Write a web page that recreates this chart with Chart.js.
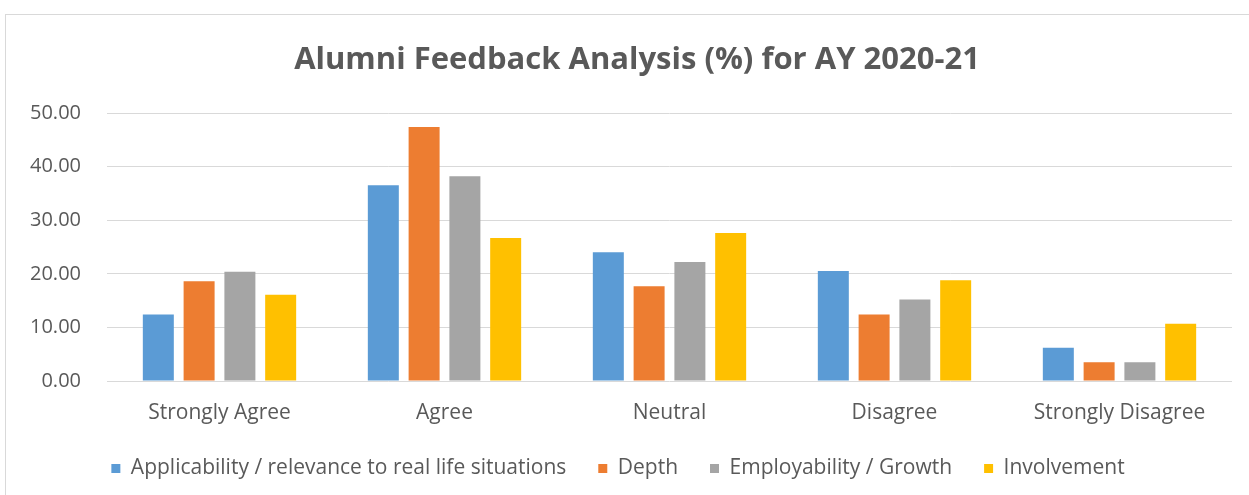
<!DOCTYPE html>
<html>
<head>
<meta charset="utf-8">
<script src="https://cdn.jsdelivr.net/npm/chart.js@4.4.1/dist/chart.umd.min.js"></script>
<style>
  html, body { margin: 0; padding: 0; background: #fff; }
  .wrap { position: relative; width: 1249px; height: 495px; overflow: hidden; }
  .frame { position: absolute; left: 5px; top: 14px; width: 1250px; height: 500px; border: 1px solid #d9d9d9; box-sizing: border-box; }
  canvas { position: absolute; left: 0; top: 0; }
</style>
</head>
<body>
<div class="wrap">
  <div class="frame"></div>
  <canvas id="myChart" width="1249" height="495"></canvas>
</div>
<script>
// chart data
const categories = ['Strongly Agree', 'Agree', 'Neutral', 'Disagree', 'Strongly Disagree'];
const applicability = [12.4, 36.5, 24.0, 20.5, 6.2];
const depth = [18.6, 47.4, 17.7, 12.4, 3.5];
const employability = [20.4, 38.2, 22.2, 15.2, 3.5];
const involvement = [16.1, 26.7, 27.6, 18.8, 10.7];
const seriesNames = ['Applicability / relevance to real life situations', 'Depth', 'Employability / Growth', 'Involvement'];
const colours = ['#5b9bd5', '#ed7d31', '#a5a5a5', '#ffc000'];
const yTicks = [0, 10, 20, 30, 40, 50];
const chartTitle = 'Alumni Feedback Analysis (%) for AY 2020-21';

const fontFamily = '"Open Sans", Lato, sans-serif';
const textColour = '#595959';

function makeDataset(i, values) {
    return {
        label: seriesNames[i],
        data: values,
        backgroundColor: colours[i],
        borderWidth: 0,
        barPercentage: 0.76,
        categoryPercentage: 0.725
    };
}

// title drawn centred on the outer frame, like the excel chart
const frameTitle = {
    id: 'frameTitle',
    afterDraw: function (chart) {
        const c = chart.ctx;
        c.save();
        c.font = 'bold 31px ' + fontFamily;
        c.fillStyle = textColour;
        c.textAlign = 'center';
        c.textBaseline = 'alphabetic';
        c.fillText(chartTitle, 637, 69);
        c.restore();
    }
};

var ctx = document.getElementById('myChart').getContext('2d');
const alumniChart = new Chart(ctx, {
    type: 'bar',
    data: {
        labels: categories,
        datasets: [
            makeDataset(0, applicability),
            makeDataset(1, depth),
            makeDataset(2, employability),
            makeDataset(3, involvement)
        ]
    },
    plugins: [frameTitle],
    options: {
        responsive: false,
        animation: false,
        layout: {
            padding: { left: 4, right: 17, top: 113, bottom: 6 }
        },
        plugins: {
            title: { display: false },
            legend: {
                position: 'bottom',
                labels: {
                    color: textColour,
                    font: { family: fontFamily, size: 21 },
                    boxWidth: 9,
                    boxHeight: 9,
                    padding: 32
                }
            },
            tooltip: { enabled: false }
        },
        scales: {
            x: {
                grid: { display: false, drawTicks: false },
                border: { display: false },
                ticks: {
                    color: textColour,
                    font: { family: fontFamily, size: 21 },
                    padding: 19
                },
                afterFit: function (axis) { axis.height = 45; }
            },
            y: {
                min: 0,
                max: 50,
                afterBuildTicks: function (axis) {
                    axis.ticks = yTicks.map(function (v) { return { value: v }; });
                },
                grid: { color: '#d9d9d9', drawTicks: false },
                border: { display: false },
                ticks: {
                    color: textColour,
                    font: { family: fontFamily, size: 20 },
                    padding: 26,
                    callback: function (v) { return Number(v).toFixed(2); }
                }
            }
        }
    }
});
</script>
</body>
</html>
